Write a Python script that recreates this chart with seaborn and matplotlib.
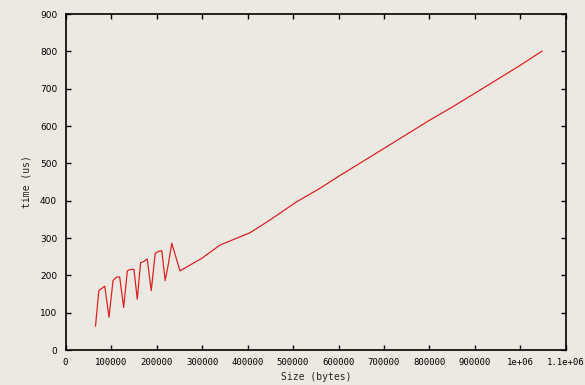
import matplotlib
matplotlib.use("Agg")
import matplotlib.pyplot as plt
import seaborn as sns
import pandas as pd

sizes = [65900, 73100, 75300, 86200, 95600, 104400, 111800, 119000, 127800,
         135900, 143100, 150400, 157700, 165000, 172200, 179600, 188400,
         197200, 204400, 211600, 219000, 226300, 233500, 251600, 300000,
         339300, 405300, 449200, 507900, 559100, 600000, 700000, 800700,
         844800, 900000, 1000000, 1047700]
times = [64, 158, 161, 171, 88, 186, 195, 196, 114, 212, 216, 216, 136, 234,
         237, 244, 159, 259, 264, 266, 186, 232, 286, 212, 246, 281, 314, 348,
         397, 433, 465, 540, 616, 647, 688, 763, 801]

x_ticks = [0, 100000, 200000, 300000, 400000, 500000, 600000, 700000,
           800000, 900000, 1000000, 1100000]
x_tick_labels = ["0", "100000", "200000", "300000", "400000", "500000",
                 "600000", "700000", "800000", "900000", "1e+06", "1.1e+06"]
y_ticks = [0, 100, 200, 300, 400, 500, 600, 700, 800, 900]

df = pd.DataFrame({"size": sizes, "time": times})

sns.set_style("ticks")
plt.rcParams["font.family"] = ["DejaVu Sans Mono", "DejaVu Sans"]

bg = "#ece9e3"
fig = plt.figure(figsize=(5.85, 3.85), dpi=100, facecolor=bg)
ax = fig.add_axes([0.112, 0.0909, 0.8555, 0.8727])
ax.set_facecolor(bg)

sns.lineplot(data=df, x="size", y="time", ax=ax, sort=False, estimator=None,
             color="#dd2222", linewidth=0.9)

ax.set_xlim(0, 1100000)
ax.set_ylim(0, 900)
ax.set_xticks(x_ticks)
ax.set_xticklabels(x_tick_labels)
ax.set_yticks(y_ticks)
ax.tick_params(direction="in", length=3.5, width=1, top=True, right=True,
               labelsize=6.5, colors="black", pad=6)
for lbl in ax.get_yticklabels():
    lbl.set_family("DejaVu Sans")
for sp in ax.spines.values():
    sp.set_visible(True)
    sp.set_linewidth(1.2)
    sp.set_color("black")
ax.set_xlabel("Size (bytes)", fontsize=7, labelpad=3)
ax.set_ylabel("time (us)", fontsize=7, labelpad=6)

fig.savefig("out.png", dpi=100, facecolor=bg)
